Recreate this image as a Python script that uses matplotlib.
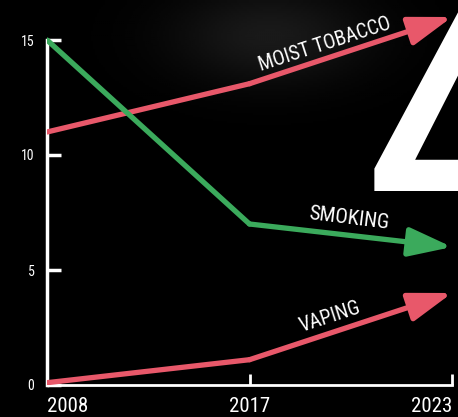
import numpy as np
import matplotlib.pyplot as plt
from matplotlib import font_manager

years = ['2008', '2017', '2023']
moist_tobacco = [11.0, 13.1, 16.0]
smoking = [15.0, 7.0, 6.0]
vaping = [0.1, 1.1, 4.0]
y_ticks = [0, 5, 10, 15]

red = '#E8586A'
green = '#3BAA5C'

names = {f.name for f in font_manager.fontManager.ttflist}
cond = 'DejaVu Sans'
for c in ['Roboto Condensed', 'Liberation Sans Narrow', 'Open Sans Condensed',
          'Noto Sans Condensed', 'DejaVu Sans Condensed']:
    if c in names:
        cond = c
        break
font = dict(family=cond, stretch='condensed')

fig = plt.figure(figsize=(4.58, 4.17), dpi=100, facecolor='black')

# faint dark glow behind the top of the chart (photo backdrop)
bg = fig.add_axes([0, 0, 1, 1], zorder=-1)
gx, gy = np.meshgrid(np.linspace(0, 458, 229), np.linspace(0, 417, 209))
glow = np.exp(-(((gx - 270) / 100) ** 2 + ((gy - 35) / 50) ** 2))
bg.imshow(glow, cmap='gray', vmin=0, vmax=10, extent=[0, 458, 417, 0], aspect='auto')
bg.set_axis_off()

ax = fig.add_axes([47 / 458, 32 / 417, 405 / 458, 385 / 417])
ax.set_facecolor('none')

# big "4" behind the lines, mostly cut off on the right
fig.text(362 / 458, 1 - 261 / 417, '4', color='white', fontsize=305,
         ha='left', va='baseline', zorder=0, **font)

x = [0, 1, 2]


def draw(vals, color):
    ax.plot(x[:2], vals[:2], color=color, lw=3.8, solid_capstyle='round',
            solid_joinstyle='round', zorder=3)
    ax.annotate('', xy=(x[2], vals[2]), xytext=(x[1], vals[1]),
                arrowprops=dict(arrowstyle='-|>,head_length=1.2,head_width=0.4',
                                color=color, lw=3.8, shrinkA=0, shrinkB=0,
                                mutation_scale=22),
                zorder=3, annotation_clip=False)


draw(moist_tobacco, red)
draw(smoking, green)
draw(vaping, red)

ax.text(1.37, 14.8, 'MOIST TOBACCO', color='white', fontsize=14.5,
        rotation=18, ha='center', va='center', **font)
ax.text(1.49, 7.25, 'SMOKING', color='white', fontsize=15,
        rotation=-7, ha='center', va='center', **font)
ax.text(1.40, 2.95, 'VAPING', color='white', fontsize=14.5,
        rotation=18, ha='center', va='center', **font)

ax.set_xlim(0, 2)
ax.set_ylim(0, 385 / 23)
ax.set_xticks(x)
ax.set_xticklabels(years, fontsize=15, color='white', **font)
for lab, ha in zip(ax.get_xticklabels(), ['left', 'center', 'right']):
    lab.set_ha(ha)
ax.set_yticks(y_ticks)
ax.set_yticklabels([str(v) for v in y_ticks], fontsize=10, color='white', **font)
ax.tick_params(axis='y', direction='in', length=10, width=2.5, color='white', pad=9)
ax.tick_params(axis='x', direction='in', length=8, width=2, color='white', pad=9)

for s in ['top', 'right']:
    ax.spines[s].set_visible(False)
ax.spines['left'].set_bounds(0, 15)
ax.spines['left'].set_color('white')
ax.spines['left'].set_linewidth(2.5)
ax.spines['bottom'].set_color('white')
ax.spines['bottom'].set_linewidth(2)

fig.savefig('out.png', dpi=100, facecolor='black')
